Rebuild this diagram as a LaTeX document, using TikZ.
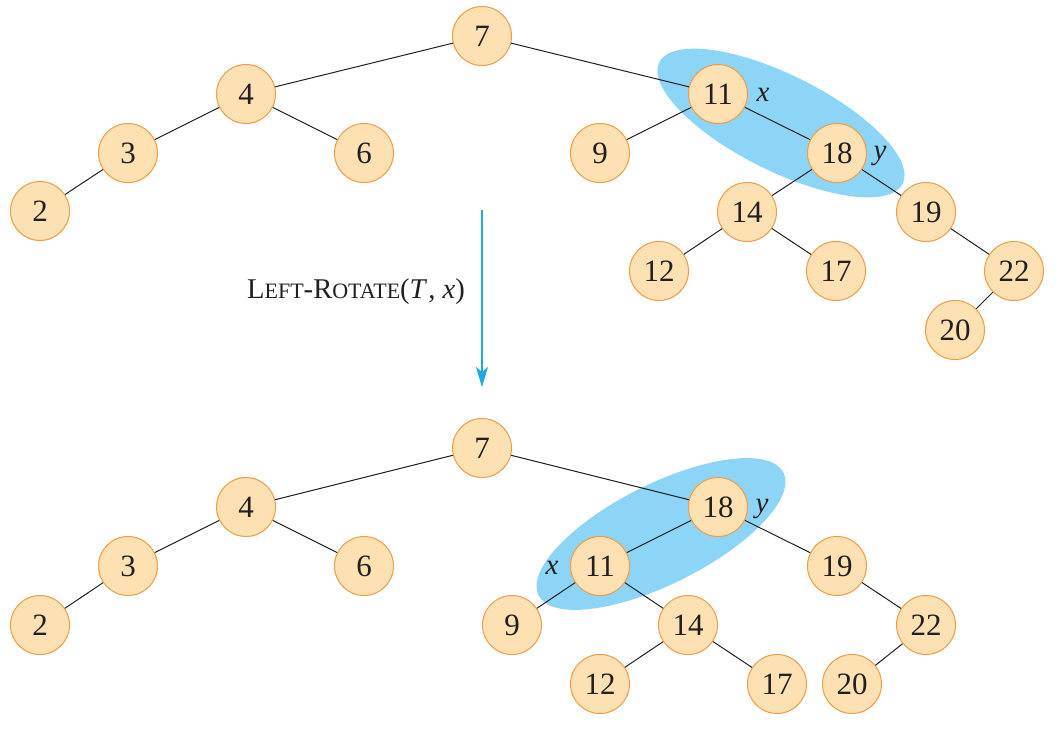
\documentclass[tikz,border=0pt]{standalone}
\usepackage{fontspec}
\setmainfont{Liberation Serif}
\usetikzlibrary{arrows.meta}
\definecolor{nodefill}{HTML}{FDE1B3}
\definecolor{nodeedge}{HTML}{F29A45}
\definecolor{hilite}{HTML}{8DD5F6}
\definecolor{arrowblue}{HTML}{1DA9E1}
\definecolor{ink}{HTML}{231F20}
\newcommand{\bigc}{\fontsize{14.3}{14.3}\selectfont}
\newcommand{\smallc}{\fontsize{11}{11}\selectfont}
\begin{document}
\begin{tikzpicture}[x=0.5pt,y=-0.5pt,
  tnode/.style={circle,draw=nodeedge,fill=nodefill,line width=0.5pt,minimum size=29.5pt,inner sep=0pt,font=\fontsize{15.5}{15.5}\selectfont,text=ink},
  edge/.style={draw=ink,line width=0.5pt},
  lbl/.style={font=\fontsize{14.5}{14.5}\selectfont\itshape,text=ink},
  hl/.style={fill=hilite,draw=none}]
\useasboundingbox (0,0) rectangle (1056,732);
% highlight ellipses
\fill[hl] (781,123) ellipse[x radius=68pt, y radius=24pt, rotate=-26.5];
\fill[hl] (661,534) ellipse[x radius=68.5pt, y radius=25pt, rotate=26.6];
% top tree
\node[tnode] (t7) at (482,36) {7};
\node[tnode] (t4) at (246,94) {4};
\node[tnode] (t3) at (128,153) {3};
\node[tnode] (t6) at (364,153) {6};
\node[tnode] (t2) at (40,211) {2};
\node[tnode] (t11) at (718,94) {11};
\node[tnode] (t9) at (600,153) {9};
\node[tnode] (t18) at (837,153) {18};
\node[tnode] (t14) at (747,212) {14};
\node[tnode] (t19) at (926,212) {19};
\node[tnode] (t12) at (659,271) {12};
\node[tnode] (t17) at (836,271) {17};
\node[tnode] (t22) at (1014,271) {22};
\node[tnode] (t20) at (955,330) {20};
\draw[edge] (t7)--(t4) (t4)--(t3) (t4)--(t6) (t3)--(t2)
  (t7)--(t11) (t11)--(t9) (t11)--(t18) (t18)--(t14) (t18)--(t19)
  (t14)--(t12) (t14)--(t17) (t19)--(t22) (t22)--(t20);
\node[lbl] (tx) at (763,95) {x};
\node[lbl] (ty) at (880,156) {y};
% arrow and label
\coordinate (as) at (482,210);
\coordinate (ae) at (482,387);
\draw[arrowblue,line width=0.55pt,-{Stealth[length=10pt,width=6pt,inset=2.5pt]}] (as)--(ae);
\node[text=ink] (op) at (356,292) {\bigc L\smallc EFT\bigc-R\smallc OTATE\bigc(\textit{T}\kern0.5pt, \textit{x})};
% bottom tree
\node[tnode] (b7) at (482,448) {7};
\node[tnode] (b4) at (246,507) {4};
\node[tnode] (b3) at (128,566) {3};
\node[tnode] (b6) at (364,566) {6};
\node[tnode] (b2) at (40,625) {2};
\node[tnode] (b18) at (718,507) {18};
\node[tnode] (b11) at (600,566) {11};
\node[tnode] (b19) at (837,566) {19};
\node[tnode] (b9) at (512,625) {9};
\node[tnode] (b14) at (688,625) {14};
\node[tnode] (b22) at (926,625) {22};
\node[tnode] (b12) at (600,684) {12};
\node[tnode] (b17) at (777,684) {17};
\node[tnode] (b20) at (852,684) {20};
\draw[edge] (b7)--(b4) (b4)--(b3) (b4)--(b6) (b3)--(b2)
  (b7)--(b18) (b18)--(b11) (b18)--(b19) (b11)--(b9) (b11)--(b14)
  (b14)--(b12) (b14)--(b17) (b19)--(b22) (b22)--(b20);
\node[lbl] (bx) at (552,568) {x};
\node[lbl] (by) at (762,509) {y};
\end{tikzpicture}
\end{document}
